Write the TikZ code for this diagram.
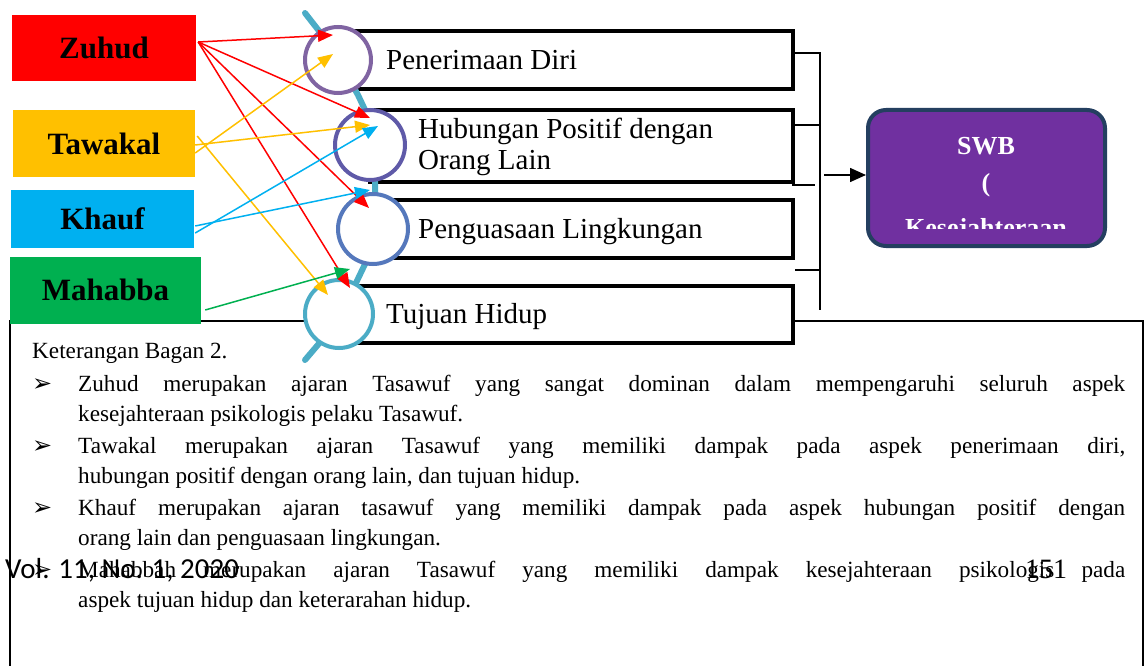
\documentclass[tikz,border=0pt]{standalone}
\usepackage{fontspec}
\setmainfont{Liberation Serif}
\newfontfamily\symfont{DejaVu Sans}
\newfontfamily\volfont{Carlito}
\usetikzlibrary{arrows.meta,calc}
\definecolor{czuhud}{HTML}{FF0000}
\definecolor{ctawakal}{HTML}{FFC000}
\definecolor{ckhauf}{HTML}{00B0F0}
\definecolor{cmahabba}{HTML}{00B050}
\definecolor{cteal}{HTML}{4BACC6}
\definecolor{cone}{HTML}{8064A2}
\definecolor{ctwo}{HTML}{5F5AA8}
\definecolor{cthree}{HTML}{5578BC}
\definecolor{cswb}{HTML}{7030A0}
\definecolor{cswbline}{HTML}{243F60}
\begin{document}
\begin{tikzpicture}[x=1pt,y=-1pt,
  srcbox/.style={rectangle, inner sep=0pt, font=\bfseries\fontsize{31}{31}\selectfont},
  aspbox/.style={rectangle, draw=black, line width=4pt, fill=white, inner sep=0pt},
  ring/.style={circle, line width=4pt, fill=white, inner sep=0pt, minimum size=#1},
  lbl/.style={anchor=base west, inner sep=0pt, font=\fontsize{29}{29}\selectfont},
  link/.style={line width=1.5pt, -{Triangle[length=15pt,width=12pt]}},
  brk/.style={line width=1.5pt},
  body/.style={anchor=base west, inner sep=0pt, font=\fontsize{23.2}{23.2}\selectfont},
  bul/.style={anchor=base west, inner sep=0pt, font=\symfont\fontsize{24}{24}\selectfont},
  swbtxt/.style={anchor=base, inner sep=0pt, text=white, font=\bfseries\fontsize{26}{26}\selectfont},
]
\useasboundingbox (0,0) rectangle (1146,666);
\fill[white] (0,0) rectangle (1146,666);

% text frame
\draw[line width=1.5pt] (10,668) -- (10,321) -- (1143,321) -- (1143,668);

% source boxes
\node[srcbox, fill=czuhud, minimum width=184pt, minimum height=66pt] (zuhud) at (104,48) {Zuhud};
\node[srcbox, fill=ctawakal, minimum width=182pt, minimum height=67pt] (tawakal) at (104,143.5) {Tawakal};
\node[srcbox, fill=ckhauf, minimum width=183pt, minimum height=58pt] (khauf) at (102.5,219) {Khauf};
\node[srcbox, fill=cmahabba, minimum width=191pt, minimum height=67pt] (mahabba) at (105.5,290) {Mahabba};

% aspect boxes
\node[aspbox, minimum width=455pt, minimum height=58pt] (r1) at (565.5,60) {};
\node[aspbox, minimum width=423pt, minimum height=72pt] (r2) at (581.5,146) {};
\node[aspbox, minimum width=420pt, minimum height=58pt] (r3) at (583,229) {};
\node[aspbox, minimum width=453pt, minimum height=57pt] (r4) at (566.5,314.5) {};

% magnifier spine
\draw[cteal, line width=6pt, line cap=round] (305,13) -- (330,45) -- (358,95) -- (366,112) -- (375,180) -- (375,196) -- (366,262) -- (355,285) -- (322,340) -- (305,360);

% circles
\node[ring=66pt, draw=cone] (c1) at (338,60) {};
\node[ring=70pt, draw=ctwo] (c2) at (370,145) {};
\node[ring=70pt, draw=cthree] (c3) at (373,229) {};
\node[ring=68pt, draw=cteal] (c4) at (339,314) {};

% labels
\node[lbl] (t1) at (386,70) {Penerimaan Diri};
\node[lbl] (t2a) at (418,139) {Hubungan Positif dengan};
\node[lbl] (t2b) at (418,169) {Orang Lain};
\node[lbl] (t3) at (418,238) {Penguasaan Lingkungan};
\node[lbl] (t4) at (386,323) {Tujuan Hidup};

% bracket
\draw[brk] (795,53) -- (821,53);
\draw[brk] (820,53) -- (820,310);
\draw[brk] (795,125) -- (820,125);
\draw[brk] (792,185) -- (815,185);
\draw[brk] (795,270) -- (820,270);

% SWB
\node[rectangle, rounded corners=18pt, fill=cswb, draw=cswbline, line width=4pt, minimum width=237pt, minimum height=136pt, inner sep=0pt] (swb) at (986.5,178) {};
\begin{scope}
\clip (868,112) rectangle (1105,228);
\node[swbtxt] (s1) at (986,155) {SWB};
\node[swbtxt] (s2) at (986,191) {(};
\node[swbtxt] (s3) at (986,236) {Kesejahteraan};
\end{scope}
\coordinate (bk) at (824,175);
\draw[line width=1.5pt, -{Triangle[length=16pt,width=14pt]}] (bk) -- (swb.west |- bk);

% influence arrows
\draw[link, czuhud] ($(zuhud.east)+(2,-6)$) -- ($(c1.center)+(-5,-25)$);
\draw[link, czuhud] ($(zuhud.east)+(2,-6)$) -- ($(c2.center)+(0,-27)$);
\draw[link, czuhud] ($(zuhud.east)+(2,-6)$) -- ($(c3.center)+(-4,-21)$);
\draw[link, czuhud] ($(zuhud.east)+(2,-6)$) -- ($(c4.center)+(11,-26)$);
\draw[link, ctawakal] ($(tawakal.east)+(0,9.5)$) -- ($(c1.center)+(-5,-6)$);
\draw[link, ctawakal] ($(tawakal.east)+(0,1.5)$) -- ($(c2.center)+(0,-20)$);
\draw[link, ctawakal] ($(tawakal.east)+(2,-7.5)$) -- ($(c4.center)+(-11,-19)$);
\draw[link, ckhauf] ($(khauf.east)+(1,14)$) -- ($(c2.center)+(8,-19)$);
\draw[link, ckhauf] ($(khauf.east)+(1,7)$) -- ($(c3.center)+(-3,-39)$);
\draw[link, cmahabba] ($(mahabba.east)+(4,20)$) -- ($(c4.center)+(11,-45)$);

% explanation
\node[body] (ket) at (32,358) {Keterangan Bagan 2.};
\node[bul] (b1) at (32,391) {➢};
\node[body] (l1a) at (78,391) {\makebox[1047pt][s]{Zuhud merupakan ajaran Tasawuf yang sangat dominan dalam mempengaruhi seluruh aspek}};
\node[body] (l1b) at (78,421) {kesejahteraan psikologis pelaku Tasawuf.};
\node[bul] (b2) at (32,453) {➢};
\node[body] (l2a) at (78,453) {\makebox[1047pt][s]{Tawakal merupakan ajaran Tasawuf yang memiliki dampak pada aspek penerimaan diri,}};
\node[body] (l2b) at (78,483) {hubungan positif dengan orang lain, dan tujuan hidup.};
\node[bul] (b3) at (32,515) {➢};
\node[body] (l3a) at (78,515) {\makebox[1047pt][s]{Khauf merupakan ajaran tasawuf yang memiliki dampak pada aspek hubungan positif dengan}};
\node[body] (l3b) at (78,545) {orang lain dan penguasaan lingkungan.};
\node[bul] (b4) at (32,577) {➢};
\node[body] (l4a) at (78,577) {\makebox[1047pt][s]{Mahabbah merupakan ajaran Tasawuf yang memiliki dampak kesejahteraan psikologis pada}};
\node[body] (l4b) at (78,607) {aspek tujuan hidup dan keterarahan hidup.};

% page footer overlay
\node[anchor=base west, inner sep=0pt, font=\volfont\fontsize{29}{29}\selectfont] (vol) at (5,578) {Vol. 11, No. 1, 2020};
\node[anchor=base west, inner sep=0pt, font=\fontsize{28}{28}\selectfont] (pg) at (1025,578) {151};
\end{tikzpicture}
\end{document}
